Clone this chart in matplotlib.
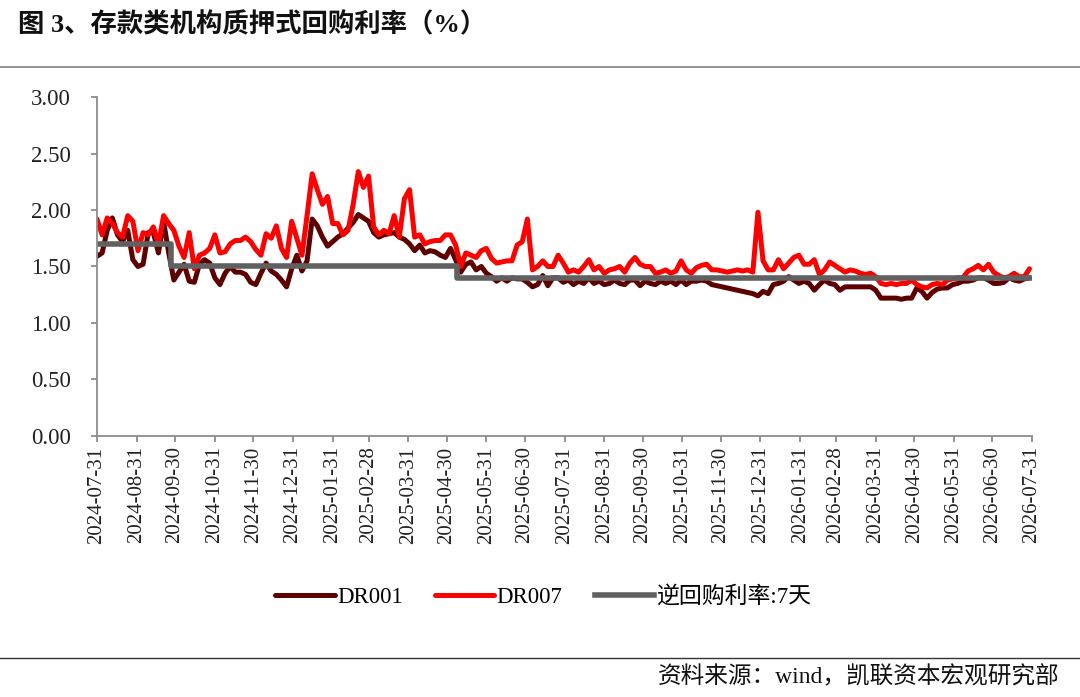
import numpy as np
import pandas as pd
import matplotlib
matplotlib.use('Agg')
import matplotlib.pyplot as plt
import matplotlib.dates as mdates
from matplotlib.ticker import FormatStrFormatter

plt.rcParams['font.family'] = ['Liberation Serif', 'Noto Sans CJK SC', 'DejaVu Sans']

# readings taken every 4 days starting 2024-07-31
dates = pd.date_range('2024-07-31', periods=183, freq='4D')

dr001 = [1.59, 1.62, 1.82, 1.93, 1.78, 1.72, 1.82, 1.56, 1.50, 1.52,
         1.80, 1.80, 1.62, 1.90, 1.62, 1.38, 1.45, 1.52, 1.37, 1.36,
         1.52, 1.56, 1.53, 1.40, 1.34, 1.44, 1.50, 1.45, 1.45, 1.43,
         1.36, 1.34, 1.44, 1.53, 1.46, 1.43, 1.38, 1.32, 1.48, 1.60,
         1.46, 1.55, 1.92, 1.86, 1.76, 1.68, 1.72, 1.76, 1.79, 1.84,
         1.89, 1.96, 1.93, 1.90, 1.80, 1.76, 1.78, 1.79, 1.80, 1.76,
         1.74, 1.70, 1.64, 1.69, 1.62, 1.64, 1.63, 1.60, 1.58, 1.66,
         1.56, 1.45, 1.52, 1.54, 1.47, 1.50, 1.44, 1.41, 1.37, 1.40,
         1.37, 1.40, 1.39, 1.39, 1.36, 1.32, 1.34, 1.42, 1.33, 1.40,
         1.40, 1.36, 1.38, 1.34, 1.37, 1.35, 1.40, 1.35, 1.37, 1.34,
         1.35, 1.38, 1.35, 1.34, 1.38, 1.38, 1.33, 1.37, 1.35, 1.34,
         1.37, 1.35, 1.37, 1.34, 1.38, 1.34, 1.37, 1.37, 1.38, 1.37,
         1.34, 1.33, 1.32, 1.31, 1.30, 1.29, 1.28, 1.27, 1.26, 1.24,
         1.28, 1.26, 1.34, 1.35, 1.37, 1.41, 1.38, 1.35, 1.37, 1.35,
         1.29, 1.34, 1.38, 1.35, 1.34, 1.29, 1.32, 1.32, 1.32, 1.32,
         1.32, 1.32, 1.29, 1.22, 1.22, 1.22, 1.22, 1.21, 1.22, 1.22,
         1.31, 1.28, 1.22, 1.27, 1.30, 1.31, 1.31, 1.34, 1.35, 1.37,
         1.37, 1.38, 1.40, 1.40, 1.38, 1.35, 1.35, 1.36, 1.40, 1.38,
         1.37, 1.39, 1.40]

dr007 = [1.92, 1.78, 1.93, 1.88, 1.80, 1.76, 1.95, 1.90, 1.64, 1.80,
         1.78, 1.85, 1.70, 1.95, 1.88, 1.82, 1.68, 1.58, 1.80, 1.48,
         1.60, 1.62, 1.66, 1.78, 1.62, 1.63, 1.70, 1.73, 1.73, 1.76,
         1.72, 1.65, 1.60, 1.79, 1.75, 1.86, 1.66, 1.58, 1.90, 1.75,
         1.60, 1.95, 2.32, 2.18, 2.05, 2.12, 1.88, 1.88, 1.78, 1.82,
         2.05, 2.34, 2.20, 2.30, 1.85, 1.78, 1.82, 1.79, 1.95, 1.76,
         2.10, 2.18, 1.76, 1.78, 1.70, 1.72, 1.73, 1.73, 1.78, 1.78,
         1.69, 1.50, 1.62, 1.60, 1.58, 1.64, 1.66, 1.57, 1.53, 1.54,
         1.55, 1.55, 1.69, 1.72, 1.92, 1.47, 1.50, 1.55, 1.50, 1.50,
         1.60, 1.53, 1.45, 1.47, 1.45, 1.50, 1.56, 1.47, 1.50, 1.44,
         1.47, 1.48, 1.50, 1.45, 1.53, 1.58, 1.52, 1.50, 1.50, 1.44,
         1.45, 1.47, 1.44, 1.46, 1.55, 1.47, 1.44, 1.49, 1.51, 1.52,
         1.47, 1.47, 1.46, 1.45, 1.46, 1.47, 1.46, 1.47, 1.45, 1.98,
         1.55, 1.47, 1.47, 1.56, 1.48, 1.53, 1.58, 1.60, 1.52, 1.52,
         1.56, 1.43, 1.47, 1.54, 1.51, 1.48, 1.45, 1.47, 1.46, 1.44,
         1.43, 1.44, 1.41, 1.35, 1.34, 1.35, 1.34, 1.35, 1.35, 1.38,
         1.34, 1.32, 1.31, 1.34, 1.35, 1.34, 1.38, 1.39, 1.40, 1.40,
         1.46, 1.48, 1.51, 1.47, 1.52, 1.45, 1.42, 1.40, 1.41, 1.44,
         1.41, 1.41, 1.48]

# 7-day reverse repo rate (policy rate changes)
rr_dates = pd.to_datetime(['2024-07-31', '2024-09-27', '2025-05-08', '2026-07-31'])
rr_rate = [1.70, 1.50, 1.40, 1.40]

fig = plt.figure(figsize=(10.8, 6.97), dpi=100)
ax = fig.add_axes([0.0898, 0.3745, 0.8658, 0.4863])

ax.plot(dates, dr001, color='#5c0000', lw=3.6, label='DR001', solid_capstyle='round')
ax.plot(dates, dr007, color='#ff0000', lw=3.6, label='DR007', solid_capstyle='round')
ax.plot(rr_dates, rr_rate, color='#606060', lw=4.0, drawstyle='steps-post', label='逆回购利率:7天')

ax.set_ylim(0, 3)
ax.set_yticks(np.arange(0, 3.01, 0.5))
ax.yaxis.set_major_formatter(FormatStrFormatter('%.2f'))
ax.set_xlim(pd.Timestamp('2024-07-31'), pd.Timestamp('2026-07-31'))
ax.set_xticks(pd.date_range('2024-07-31', '2026-07-31', freq='ME'))
ax.xaxis.set_major_formatter(mdates.DateFormatter('%Y-%m-%d'))
plt.setp(ax.get_xticklabels(), rotation=90)

for s in ['top', 'right']:
    ax.spines[s].set_visible(False)
for s in ['left', 'bottom']:
    ax.spines[s].set_color('#8c8c8c')
    ax.spines[s].set_linewidth(1.3)
ax.tick_params(axis='both', colors='#8c8c8c', length=4, width=1.3, labelcolor='#222222')
ax.tick_params(axis='x', labelsize=15)
ax.tick_params(axis='y', labelsize=16.5, pad=15)

fig.legend(loc='center', bbox_to_anchor=(0.503, 0.1435), ncol=3, frameon=False,
           fontsize=16.5, handlelength=2.6, handletextpad=0.1, columnspacing=1.4)

fig.text(0.017, 0.964, '图 3、存款类机构质押式回购利率（%）', fontsize=19, fontweight='bold',
         va='center', ha='left', color='#111111')
fig.add_artist(plt.Line2D([0, 1], [1 - 67 / 697, 1 - 67 / 697], color='#8c8c8c', lw=1.3))
fig.add_artist(plt.Line2D([0, 1], [1 - 658 / 697, 1 - 658 / 697], color='#333333', lw=1.0))
fig.text(0.981, 1 - 677 / 697, '资料来源：wind，凯联资本宏观研究部', fontsize=17,
         va='center', ha='right', color='#111111')

fig.savefig('out.png', dpi=100)
